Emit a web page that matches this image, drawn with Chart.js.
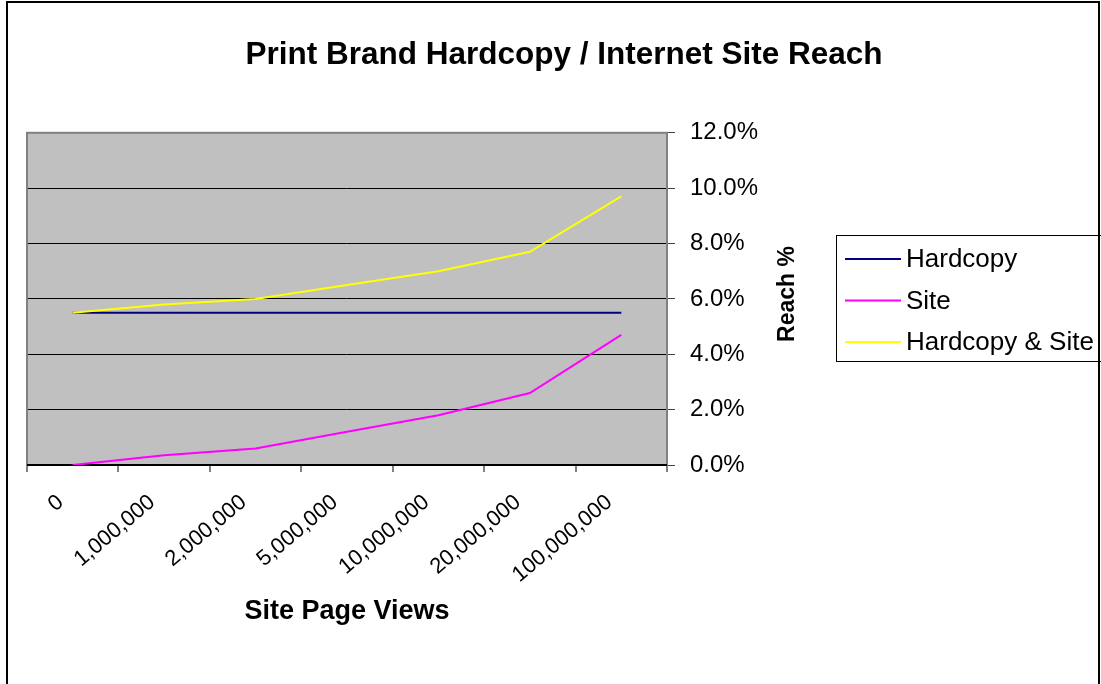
<!DOCTYPE html>
<html>
<head>
<meta charset="utf-8">
<script src="https://cdn.jsdelivr.net/npm/chart.js@4"></script>
<style>
  html, body { margin: 0; padding: 0; background: #fff; }
  #wrap { width: 1101px; height: 684px; position: relative; }
</style>
</head>
<body>
<div id="wrap"><canvas id="reach"></canvas></div>
<script>
// Data (reach in %)

var pageViews = ['0', '1,000,000', '2,000,000', '5,000,000', '10,000,000', '20,000,000', '100,000,000'];
var hardcopy = [5.5, 5.5, 5.5, 5.5, 5.5, 5.5, 5.5];
var site = [0.0, 0.35, 0.6, 1.2, 1.8, 2.6, 4.7];
var hardcopyAndSite = [5.5, 5.8, 6.0, 6.5, 7.0, 7.7, 9.7];
var reachTicks = [0, 2, 4, 6, 8, 10, 12];

var FONT = 'Arial, "Liberation Sans", sans-serif';

// Grey plot area, frame, outer border, slanted x labels, legend and y title

var excelLook = {
  id: 'excelLook',
  beforeDraw: function (chart) {
    var c = chart.ctx, a = chart.chartArea;
    c.save();
    c.fillStyle = '#fff';
    c.fillRect(0, 0, chart.width, chart.height);
    c.fillStyle = '#C0C0C0';
    c.fillRect(a.left, a.top, a.right - a.left, a.bottom - a.top);
    c.restore();
  },
  beforeDatasetsDraw: function (chart) {
    var c = chart.ctx, a = chart.chartArea;
    c.save();
    c.strokeStyle = '#808080';
    c.lineWidth = 2;
    c.strokeRect(a.left, a.top, a.right - a.left, a.bottom - a.top);
    c.strokeStyle = '#000';
    c.beginPath();
    c.moveTo(a.left, a.bottom);
    c.lineTo(a.right, a.bottom);
    c.stroke();
    c.restore();
  },
  afterDraw: function (chart) {
    var c = chart.ctx, a = chart.chartArea;
    var xs = chart.scales.x;

    // category labels, slanted like the Excel original
    c.save();
    c.fillStyle = '#000';
    c.font = '22px ' + FONT;
    c.textAlign = 'right';
    c.textBaseline = 'top';
    for (var k = 0; k < pageViews.length; k++) {
      c.save();
      c.translate(xs.getPixelForValue(k) - 19, a.bottom + 26);
      c.rotate(-40 * Math.PI / 180);
      c.fillText(pageViews[k], 0, 0);
      c.restore();
    }
    c.restore();

    c.save();
    // outer chart border
    c.strokeStyle = '#000';
    c.lineWidth = 2;
    c.strokeRect(7, 2, 1092, 720);

    // y axis title, reading bottom to top
    c.fillStyle = '#000';
    c.font = 'bold 23px ' + FONT;
    c.textAlign = 'center';
    c.textBaseline = 'middle';
    c.translate(788, 294);
    c.rotate(-Math.PI / 2);
    c.fillText('Reach %', 0, 0);
    c.restore();

    // legend
    c.save();
    c.strokeStyle = '#000';
    c.lineWidth = 1;
    c.strokeRect(836.5, 235.5, 300, 126);
    c.font = '26px ' + FONT;
    c.textBaseline = 'middle';
    c.textAlign = 'left';
    var ds = chart.data.datasets;
    for (var i = 0; i < ds.length; i++) {
      var y = 259 + i * 41.5;
      c.strokeStyle = ds[i].borderColor;
      c.lineWidth = 2;
      c.beginPath();
      c.moveTo(845, y);
      c.lineTo(901, y);
      c.stroke();
      c.fillStyle = '#000';
      c.fillText(ds[i].label, 906, y + 1);
    }
    c.restore();
  }
};

const ctx = document.getElementById('reach');
const reachChart = new Chart(ctx, {
  type: 'line',
  data: {
    labels: pageViews,
    datasets: [{
      label: 'Hardcopy',
      data: hardcopy,
      borderColor: '#000080',
      order: 3
    }, {
      label: 'Site',
      data: site,
      borderColor: '#FF00FF',
      order: 2
    }, {
      label: 'Hardcopy & Site',
      data: hardcopyAndSite,
      borderColor: '#FFFF00',
      order: 1
    }]
  },
  options: {
    responsive: true,
    maintainAspectRatio: false,
    animation: false,
    elements: {
      line: { borderWidth: 2, tension: 0, fill: false },
      point: { radius: 0, hoverRadius: 0 }
    },
    layout: {
      padding: { left: 27, right: 0, top: 0, bottom: 0 }
    },
    scales: {
      x: {
        offset: true,
        afterFit: function (scale) { scale.height = 219; },
        grid: {
          offset: true,
          drawOnChartArea: false,
          tickLength: 7,
          tickColor: '#808080',
          lineWidth: 2
        },
        border: { color: '#000', width: 2 },
        ticks: { display: false },
        title: {
          display: true,
          text: 'Site Page Views',
          color: '#000',
          font: { family: FONT, size: 27, weight: 'bold' },
          padding: { top: 56, bottom: 56 }
        }
      },
      y: {
        position: 'right',
        min: 0,
        max: 12,
        afterFit: function (scale) { scale.width = 434; },
        afterBuildTicks: function (scale) {
          scale.ticks = reachTicks.map(function (v) { return { value: v }; });
        },
        grid: {
          color: '#000',
          lineWidth: 1,
          tickLength: 8,
          tickColor: '#404040'
        },
        border: { color: '#808080', width: 2 },
        ticks: {
          padding: 15,
          color: '#000',
          font: { family: FONT, size: 24 },
          callback: function (v) { return v.toFixed(1) + '%'; }
        }
      }
    },
    plugins: {
      legend: { display: false },
      tooltip: { enabled: false },
      title: {
        display: true,
        text: 'Print Brand Hardcopy / Internet Site Reach',
        color: '#000',
        font: { family: FONT, size: 31.5, weight: 'bold' },
        padding: { top: 36, bottom: 59 }
      }
    }
  },
  plugins: [excelLook]
});
</script>
</body>
</html>
